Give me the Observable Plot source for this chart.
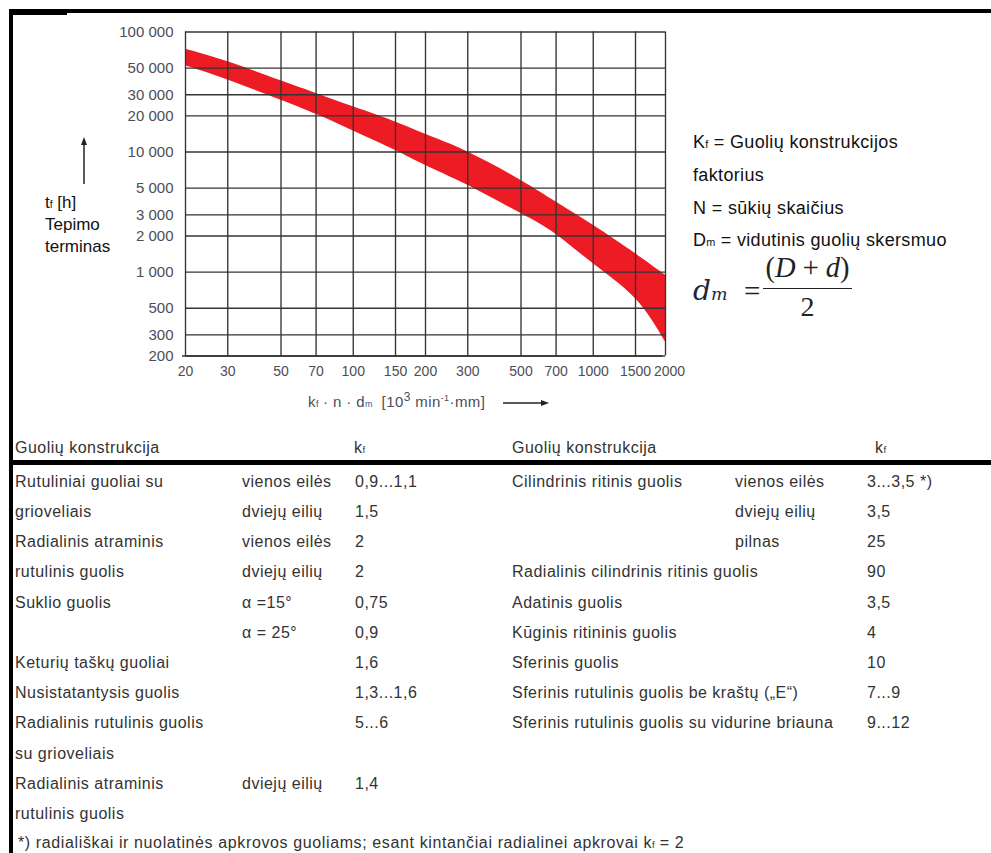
<!DOCTYPE html>
<html><head><meta charset="utf-8">
<script src="https://cdn.jsdelivr.net/npm/d3@7"></script>
<script src="https://cdn.jsdelivr.net/npm/@observablehq/plot@0.6"></script>
<style>
html,body{margin:0;padding:0;background:#fff;}
#page{position:relative;width:991px;height:853px;overflow:hidden;font-family:"Liberation Sans",Arial,sans-serif;background:#fff;}
#page svg.plot{position:absolute;left:0;top:0;}
.t{position:absolute;white-space:nowrap;line-height:20px;height:20px;}
.tbl{font-size:16px;color:#333;letter-spacing:0.5px;}
.foot{letter-spacing:0.62px;}
.leg{font-size:18px;color:#111;letter-spacing:0.35px;}
.ylab{font-size:17px;color:#111;}
.sb{font-size:0.6em;letter-spacing:0;}
.blk{position:absolute;background:#000;}
.xlab{font-size:15px;color:#4d4d5a;letter-spacing:0.4px;}
.math{font-family:"Liberation Serif","DejaVu Serif",serif;color:#222;}
</style></head><body><div id="page"></div>
<script>
// ---- chart data ----
const xTicks = [20, 30, 50, 70, 100, 150, 200, 300, 500, 700, 1000, 1500, 2000];
const yTicks = [200, 300, 500, 1000, 2000, 3000, 5000, 10000, 20000, 30000, 50000, 100000];
const bandX     = [20, 30, 50, 70, 100, 150, 200, 300, 500, 700, 1000, 1500, 2000];
const bandUpper = [71800, 56500, 39200, 30800, 23800, 17800, 14050, 10000, 5800, 3830, 2450, 1420, 940];
const bandLower = [52300, 39800, 27000, 20600, 15000, 10300, 7740, 5280, 3070, 2060, 1175, 600, 261];

// ---- table data ----
const leftHeader = ["Guolių konstrukcija", "k<span class='sb'>f</span>"];
const leftCol1 = ["Rutuliniai guoliai su", "grioveliais", "Radialinis atraminis", "rutulinis guolis", "Suklio guolis", "", "Keturių taškų guoliai", "Nusistatantysis guolis", "Radialinis rutulinis guolis", "su grioveliais", "Radialinis atraminis", "rutulinis guolis"];
const leftCol2 = ["vienos eilės", "dviejų eilių", "vienos eilės", "dviejų eilių", "α =15°", "α = 25°", "", "", "", "", "dviejų eilių", ""];
const leftCol3 = ["0,9...1,1", "1,5", "2", "2", "0,75", "0,9", "1,6", "1,3...1,6", "5...6", "", "1,4", ""];
const rightCol1 = ["Cilindrinis ritinis guolis", "", "", "Radialinis cilindrinis ritinis guolis", "Adatinis guolis", "Kūginis ritininis guolis", "Sferinis guolis", "Sferinis rutulinis guolis be kraštų („E“)", "Sferinis rutulinis guolis su vidurine briauna"];
const rightCol2 = ["vienos eilės", " dviejų eilių", " pilnas", "", "", "", "", "", ""];
const rightCol3 = ["3...3,5 *)", "3,5", "25", "90", "3,5", "4", "10", "7...9", "9...12"];
const footnote = "*) radiališkai ir nuolatinės apkrovos guoliams; esant kintančiai radialinei apkrovai k<span class='sb'>f</span> = 2";
const legendLines = ["K<span class='sb'>f</span> = Guolių konstrukcijos", "faktorius", "N = sūkių skaičius", "D<span class='sb'>m</span> = vidutinis guolių skersmuo"];

const page = document.getElementById("page");
const band = bandX.map((x, i) => ({x, lo: bandLower[i], hi: bandUpper[i]}));
const fmt = d => d3.format(",")(d).replace(/,/g, " ");
const gridColor = "#333";
const labColor = "#4d4d5a";

const chart = Plot.plot({
  width: 700, height: 420,
  marginLeft: 185, marginRight: 35, marginTop: 31.5, marginBottom: 64.5,
  x: {type: "log", domain: [20, 2000], axis: null},
  y: {type: "log", domain: [200, 100000], axis: null},
  style: {fontFamily: "'Liberation Sans', Arial, sans-serif", background: "transparent", overflow: "visible"},
  marks: [
    Plot.areaY(band, {x: "x", y1: "lo", y2: "hi", fill: "#ed1c24", curve: "natural"}),
    Plot.ruleX(xTicks, {stroke: gridColor, strokeWidth: 1.35}),
    Plot.ruleY(yTicks, {stroke: gridColor, strokeWidth: 1.35}),
    Plot.tickY([200], {y: d => d, frameAnchor: "left", dx: -3, stroke: gridColor, strokeWidth: 1.35, inset: 0}),
    Plot.text(yTicks, {y: d => d, text: fmt, frameAnchor: "left", textAnchor: "end", dx: -12, fontSize: 15, fill: labColor}),
    Plot.text(xTicks.slice(0, -1), {x: d => d, text: d => String(d), frameAnchor: "bottom", lineAnchor: "middle", dy: 16, fontSize: 14, fill: labColor}),
    Plot.text(xTicks.slice(-1), {x: d => d, text: d => String(d), frameAnchor: "bottom", lineAnchor: "middle", dy: 16, dx: 4, fontSize: 14, fill: labColor})
  ]
});
chart.classList.add("plot");
page.appendChild(chart);

function put(html, x, y, cls) {
  const d = document.createElement("div");
  d.className = "t " + (cls || "");
  d.style.left = x + "px";
  d.style.top = (y - 10) + "px";
  d.innerHTML = html;
  page.appendChild(d);
  return d;
}
function blk(x, y, w, h) {
  const d = document.createElement("div");
  d.className = "blk";
  Object.assign(d.style, {left: x + "px", top: y + "px", width: w + "px", height: h + "px"});
  page.appendChild(d);
}

// frame
blk(9, 9, 982, 4);
blk(9, 9, 58, 6);
blk(9, 9, 4, 844);
blk(9, 460, 982, 5);

// arrows
const svgNS = "http://www.w3.org/2000/svg";
function arrowSvg(x1, y1, x2, y2) {
  const s = document.createElementNS(svgNS, "svg");
  s.setAttribute("width", 991); s.setAttribute("height", 853);
  s.style.position = "absolute"; s.style.left = "0"; s.style.top = "0"; s.style.pointerEvents = "none";
  const ang = Math.atan2(y2 - y1, x2 - x1);
  const L = 8, W = 3;
  const bx = x2 - L * Math.cos(ang), by = y2 - L * Math.sin(ang);
  const line = document.createElementNS(svgNS, "line");
  line.setAttribute("x1", x1); line.setAttribute("y1", y1); line.setAttribute("x2", bx); line.setAttribute("y2", by);
  line.setAttribute("stroke", "#222"); line.setAttribute("stroke-width", 1.5);
  const p = document.createElementNS(svgNS, "path");
  const px = -Math.sin(ang) * W, py = Math.cos(ang) * W;
  p.setAttribute("d", `M${x2},${y2}L${bx + px},${by + py}L${bx - px},${by - py}Z`);
  p.setAttribute("fill", "#222");
  s.appendChild(line); s.appendChild(p);
  page.appendChild(s);
}
arrowSvg(84, 184, 84, 137);
arrowSvg(503, 403, 549, 403);

put("t<span class='sb'>f</span> [h]", 45, 203, "ylab");
put("Tepimo", 45, 224.5, "ylab");
put("terminas", 45, 246.5, "ylab");

// x label
put("k<span class='sb'>f</span> · n · d<span class='sb' style='color:#3b5a9a'>m</span> &nbsp;[10<sup style='font-size:0.8em;line-height:0'>3</sup> min<sup style='font-size:0.6em;line-height:0'>-1</sup>·mm]", 308, 402, "xlab");

// legend
const legY = [141.7, 175, 208.3, 240];
legendLines.forEach((h, i) => put(h, 693, legY[i], "leg"));

// formula
const f1 = put("d<span style='font-size:0.62em'>m</span>", 693, 291, "math");
f1.style.fontFamily = "'DejaVu Serif', serif"; f1.style.fontSize = "28px"; f1.style.fontStyle = "italic"; f1.style.lineHeight = "20px"; f1.style.color = "#23263a";
const f2 = put("=", 744, 291, "math"); f2.style.fontSize = "29px";
const num = put("(<i>D</i>&nbsp;+&nbsp;<i>d</i>)", 763, 268, "math"); num.style.fontSize = "28.5px"; num.style.width = "89px"; num.style.textAlign = "center";
const den = put("2", 763, 307, "math"); den.style.fontSize = "28px"; den.style.width = "89px"; den.style.textAlign = "center";
const bar = document.createElement("div");
Object.assign(bar.style, {position: "absolute", left: "763px", top: "287.5px", width: "89px", height: "1.6px", background: "#222"});
page.appendChild(bar);

// table headers
put(leftHeader[0], 15, 448, "tbl");
put(leftHeader[1], 354, 448, "tbl");
put(leftHeader[0], 512, 448, "tbl");
put(leftHeader[1], 875, 448, "tbl");

const row0 = 481.7, rowH = 30.2;
leftCol1.forEach((s, i) => { if (s) put(s, 15, row0 + i * rowH, "tbl"); });
leftCol2.forEach((s, i) => { if (s) put(s, 242, row0 + i * rowH, "tbl"); });
leftCol3.forEach((s, i) => { if (s) put(s, 355, row0 + i * rowH, "tbl"); });
rightCol1.forEach((s, i) => { if (s) put(s, 512, row0 + i * rowH, "tbl"); });
rightCol2.forEach((s, i) => { if (s) put(s, 735, row0 + i * rowH, "tbl"); });
rightCol3.forEach((s, i) => { if (s) put(s, 867, row0 + i * rowH, "tbl"); });
put(footnote, 18, 843, "tbl foot");
</script>
</body></html>
